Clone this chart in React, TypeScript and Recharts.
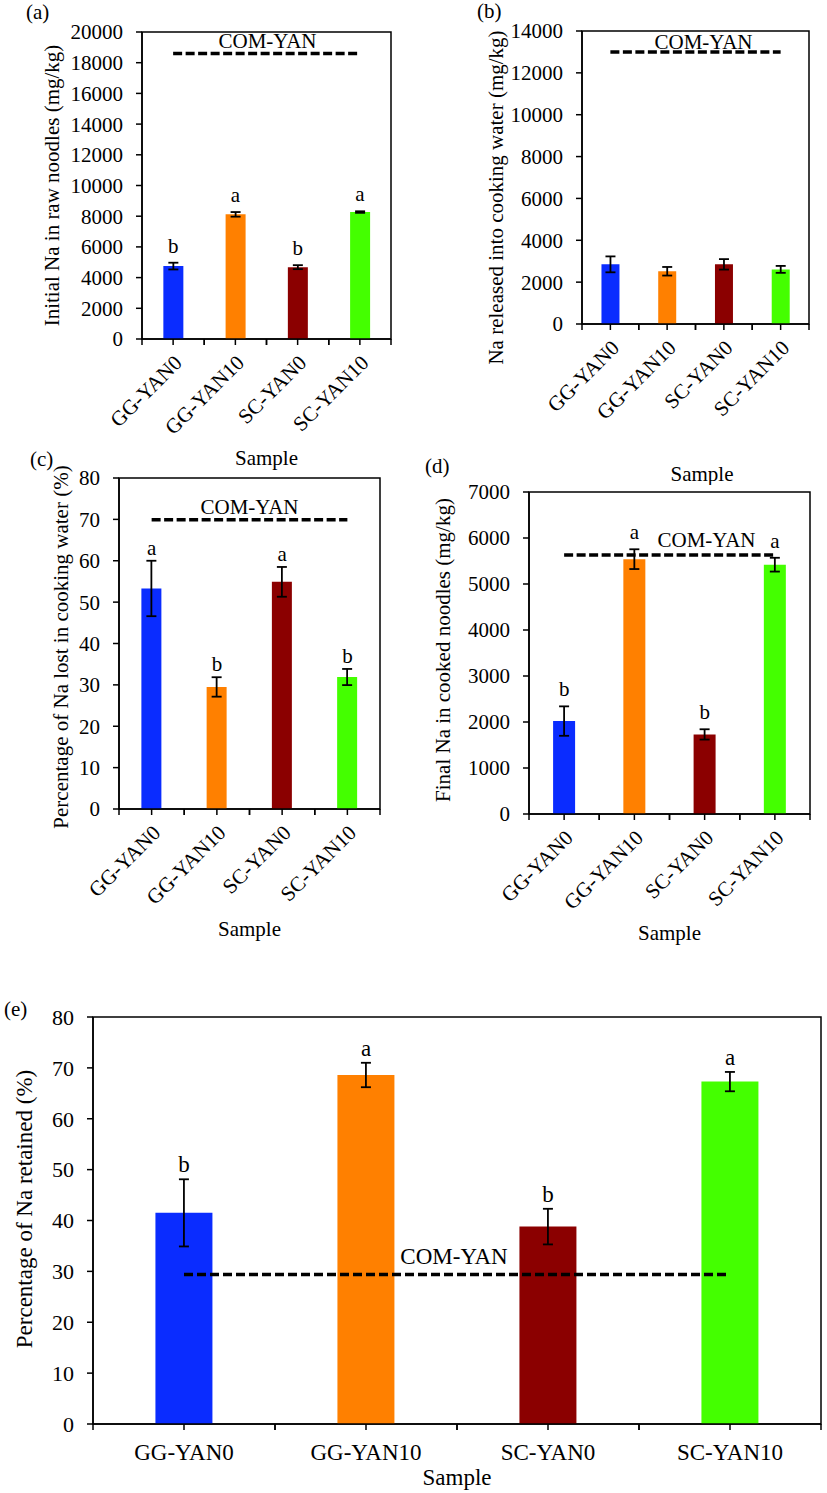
import React from 'react';
import {
  ComposedChart,
  Bar,
  Cell,
  ErrorBar,
  Line,
  LabelList,
  XAxis,
  YAxis,
  ReferenceLine,
  ReferenceArea,
} from 'recharts';

const FONT = '"Liberation Serif", "Times New Roman", serif';

const categories = ['GG-YAN0', 'GG-YAN10', 'SC-YAN0', 'SC-YAN10'];
const barColors = ['#0a2cff', '#ff8000', '#8b0000', '#44ff00'];

// (a) Initial Na in raw noodles (mg/kg)
const rawValues = [4750, 8120, 4680, 8270];
const rawErrors = [220, 150, 130, 50];
const rawLetters = ['b', 'a', 'b', 'a'];
const rawCom = 18600;
const rawTicks = [0, 2000, 4000, 6000, 8000, 10000, 12000, 14000, 16000, 18000, 20000];

// (b) Na released into cooking water (mg/kg)
const releasedValues = [2850, 2520, 2850, 2610];
const releasedErrors = [380, 205, 250, 165];
const releasedCom = 13000;
const releasedTicks = [0, 2000, 4000, 6000, 8000, 10000, 12000, 14000];

// (c) Percentage of Na lost in cooking water (%)
const lostValues = [53.3, 29.5, 54.9, 31.9];
const lostErrors = [6.7, 2.35, 3.6, 1.95];
const lostLetters = ['a', 'b', 'a', 'b'];
const lostCom = 69.9;
const lostTicks = [0, 10, 20, 30, 40, 50, 60, 70, 80];

// (d) Final Na in cooked noodles (mg/kg)
const finalValues = [2020, 5540, 1730, 5420];
const finalErrors = [320, 215, 112, 150];
const finalLetters = ['b', 'a', 'b', 'a'];
const finalCom = 5630;
const finalTicks = [0, 1000, 2000, 3000, 4000, 5000, 6000, 7000];

// (e) Percentage of Na retained (%)
const retainedValues = [41.5, 68.6, 38.8, 67.3];
const retainedErrors = [6.6, 2.4, 3.5, 1.9];
const retainedLetters = ['b', 'a', 'b', 'a'];
const retainedCom = 29.4;
const retainedTicks = [0, 10, 20, 30, 40, 50, 60, 70, 80];

type Box = { x: number; y: number; w: number; h: number };
type Plot = { l: number; t: number; r: number; b: number };

type PanelProps = {
  values: number[];
  errors: number[];
  letters?: string[];
  com: number;
  ticks: number[];
  yTitle: string;
  box: Box;
  plot: Plot;
  xH: number;
  yTitleDx: number;
  yTitleDy: number;
  xTitleDx: number;
  comDx: number;
  comOffset: number;
  letterGap: number;
  rotated: boolean;
  fontSize: number;
  tickFontSize: number;
  dash: string;
};

function XTick(props: any) {
  const { x, y, payload, step, rotated, fontSize } = props;
  const lines = [x - step / 2, x, x + step / 2];
  return (
    <g>
      {lines.map((lx: number, i: number) => (
        <line key={i} x1={lx} y1={y} x2={lx} y2={y + 6} stroke="#000" strokeWidth={1.5} />
      ))}
      {rotated ? (
        <text
          x={0}
          y={0}
          transform={`translate(${x + 10},${y + 25}) rotate(-45)`}
          textAnchor="end"
          fill="#000"
          fontSize={fontSize}
          fontFamily={FONT}
        >
          {payload.value}
        </text>
      ) : (
        <text x={x} y={y + 36} textAnchor="middle" fill="#000" fontSize={fontSize} fontFamily={FONT}>
          {payload.value}
        </text>
      )}
    </g>
  );
}

function Panel(p: PanelProps) {
  const data = categories.map((cat, i) => ({
    cat,
    value: p.values[i],
    err: p.errors[i],
    top: p.values[i] + p.errors[i],
    com: p.com,
    letter: p.letters ? p.letters[i] : '',
  }));
  const yW = 60;
  const margin = {
    top: p.plot.t - p.box.y,
    left: p.plot.l - p.box.x - yW,
    right: p.box.x + p.box.w - p.plot.r,
    bottom: p.box.y + p.box.h - p.plot.b - p.xH,
  };
  const step = (p.plot.r - p.plot.l) / categories.length;
  const max = p.ticks[p.ticks.length - 1];
  return (
    <div style={{ position: 'absolute', left: p.box.x, top: p.box.y, width: p.box.w, height: p.box.h }}>
      <ComposedChart width={p.box.w} height={p.box.h} data={data} margin={margin} barCategoryGap="34.3%">
        <XAxis
          dataKey="cat"
          height={p.xH}
          interval={0}
          tickLine={false}
          tickSize={0}
          tickMargin={0}
          axisLine={{ stroke: '#000', strokeWidth: 1.5 }}
          tick={(tp: any) => (
            <XTick x={tp.x} y={tp.y} payload={tp.payload} step={step} rotated={p.rotated} fontSize={p.fontSize} />
          )}
          label={{
            value: 'Sample',
            position: 'insideBottom',
            offset: 0,
            dx: p.xTitleDx,
            fill: '#000',
            fontSize: p.fontSize,
            fontFamily: FONT,
          }}
        />
        <YAxis
          type="number"
          domain={[0, max]}
          ticks={p.ticks}
          interval={0}
          width={yW}
          tickSize={6}
          tickMargin={13}
          axisLine={{ stroke: '#000', strokeWidth: 1.5 }}
          tickLine={{ stroke: '#000', strokeWidth: 1.5 }}
          tick={{ fill: '#000', fontSize: p.tickFontSize, fontFamily: FONT }}
          label={{
            value: p.yTitle,
            angle: -90,
            position: 'center',
            dx: p.yTitleDx,
            dy: p.yTitleDy,
            fill: '#000',
            fontSize: p.fontSize,
            fontFamily: FONT,
          }}
        />
        <ReferenceArea y1={0} y2={max} fill="none" stroke="#000" strokeWidth={1.5} ifOverflow="visible" />
        <Bar dataKey="value" isAnimationActive={false}>
          {data.map((d, i) => (
            <Cell key={d.cat} fill={barColors[i]} />
          ))}
          <ErrorBar dataKey="err" width={5} stroke="#000" strokeWidth={1.8} direction="y" />
        </Bar>
        <Line
          dataKey="com"
          stroke="#000"
          strokeWidth={3.5}
          strokeDasharray={p.dash}
          dot={false}
          activeDot={false}
          isAnimationActive={false}
        />
        {p.letters ? (
          <Line dataKey="top" stroke="none" dot={false} activeDot={false} isAnimationActive={false}>
            <LabelList
              dataKey="letter"
              position="top"
              offset={p.letterGap}
              fill="#000"
              fontSize={p.fontSize}
              fontFamily={FONT}
            />
          </Line>
        ) : null}
        <ReferenceLine
          y={p.com}
          stroke="none"
          label={{
            value: 'COM-YAN',
            position: 'top',
            offset: p.comOffset,
            dx: p.comDx,
            fill: '#000',
            fontSize: p.fontSize,
            fontFamily: FONT,
          }}
        />
      </ComposedChart>
    </div>
  );
}

function PanelTag({ text, left, top, size }: { text: string; left: number; top: number; size: number }) {
  return (
    <div
      style={{
        position: 'absolute',
        left,
        top,
        fontSize: size,
        lineHeight: `${size}px`,
        fontFamily: FONT,
        color: '#000',
        whiteSpace: 'nowrap',
      }}
    >
      {text}
    </div>
  );
}

export default function App() {
  return (
    <div style={{ position: 'absolute', left: 0, top: 0, width: 827, height: 1493, background: '#fff', overflow: 'hidden' }}>
      <Panel
        values={rawValues}
        errors={rawErrors}
        letters={rawLetters}
        com={rawCom}
        ticks={rawTicks}
        yTitle="Initial Na in raw noodles (mg/kg)"
        box={{ x: 0, y: 0, w: 414, h: 470 }}
        plot={{ l: 142, t: 32, r: 391, b: 339 }}
        xH={126}
        yTitleDx={-60.5}
        yTitleDy={0}
        xTitleDx={0}
        comDx={1}
        comOffset={5}
        letterGap={10}
        rotated={true}
        fontSize={21}
        tickFontSize={21}
        dash="9 3.5"
      />
      <Panel
        values={releasedValues}
        errors={releasedErrors}
        com={releasedCom}
        ticks={releasedTicks}
        yTitle="Na released into cooking water (mg/kg)"
        box={{ x: 414, y: 0, w: 413, h: 485 }}
        plot={{ l: 582, t: 31, r: 809, b: 324 }}
        xH={157}
        yTitleDx={-56}
        yTitleDy={20}
        xTitleDx={6.5}
        comDx={8}
        comOffset={3}
        letterGap={10}
        rotated={true}
        fontSize={21}
        tickFontSize={21}
        dash="9 3.5"
      />
      <Panel
        values={lostValues}
        errors={lostErrors}
        letters={lostLetters}
        com={lostCom}
        ticks={lostTicks}
        yTitle="Percentage of Na lost in cooking water (%)"
        box={{ x: 0, y: 450, w: 414, h: 495 }}
        plot={{ l: 119, t: 478, r: 380, b: 809 }}
        xH={127}
        yTitleDx={-28}
        yTitleDy={3.5}
        xTitleDx={0}
        comDx={0}
        comOffset={6}
        letterGap={6}
        rotated={true}
        fontSize={21}
        tickFontSize={21}
        dash="9 3.5"
      />
      <Panel
        values={finalValues}
        errors={finalErrors}
        letters={finalLetters}
        com={finalCom}
        ticks={finalTicks}
        yTitle="Final Na in cooked noodles (mg/kg)"
        box={{ x: 414, y: 470, w: 413, h: 475 }}
        plot={{ l: 529, t: 492, r: 810, b: 814 }}
        xH={126}
        yTitleDx={-56}
        yTitleDy={-3}
        xTitleDx={0}
        comDx={37}
        comOffset={8}
        letterGap={10}
        rotated={true}
        fontSize={21}
        tickFontSize={21}
        dash="9 3.5"
      />
      <Panel
        values={retainedValues}
        errors={retainedErrors}
        letters={retainedLetters}
        com={retainedCom}
        ticks={retainedTicks}
        yTitle="Percentage of Na retained (%)"
        box={{ x: 0, y: 990, w: 827, h: 503 }}
        plot={{ l: 93, t: 1017, r: 821, b: 1424 }}
        xH={61}
        yTitleDx={-39.5}
        yTitleDy={-11.5}
        xTitleDx={0}
        comDx={-3}
        comOffset={10}
        letterGap={7}
        rotated={false}
        fontSize={23}
        tickFontSize={22}
        dash="9 4"
      />
      <PanelTag text="(a)" left={26} top={2} size={21} />
      <PanelTag text="(b)" left={477} top={1} size={21} />
      <PanelTag text="(c)" left={30} top={449} size={21} />
      <PanelTag text="(d)" left={425} top={456} size={21} />
      <PanelTag text="(e)" left={4} top={999} size={21} />
    </div>
  );
}
